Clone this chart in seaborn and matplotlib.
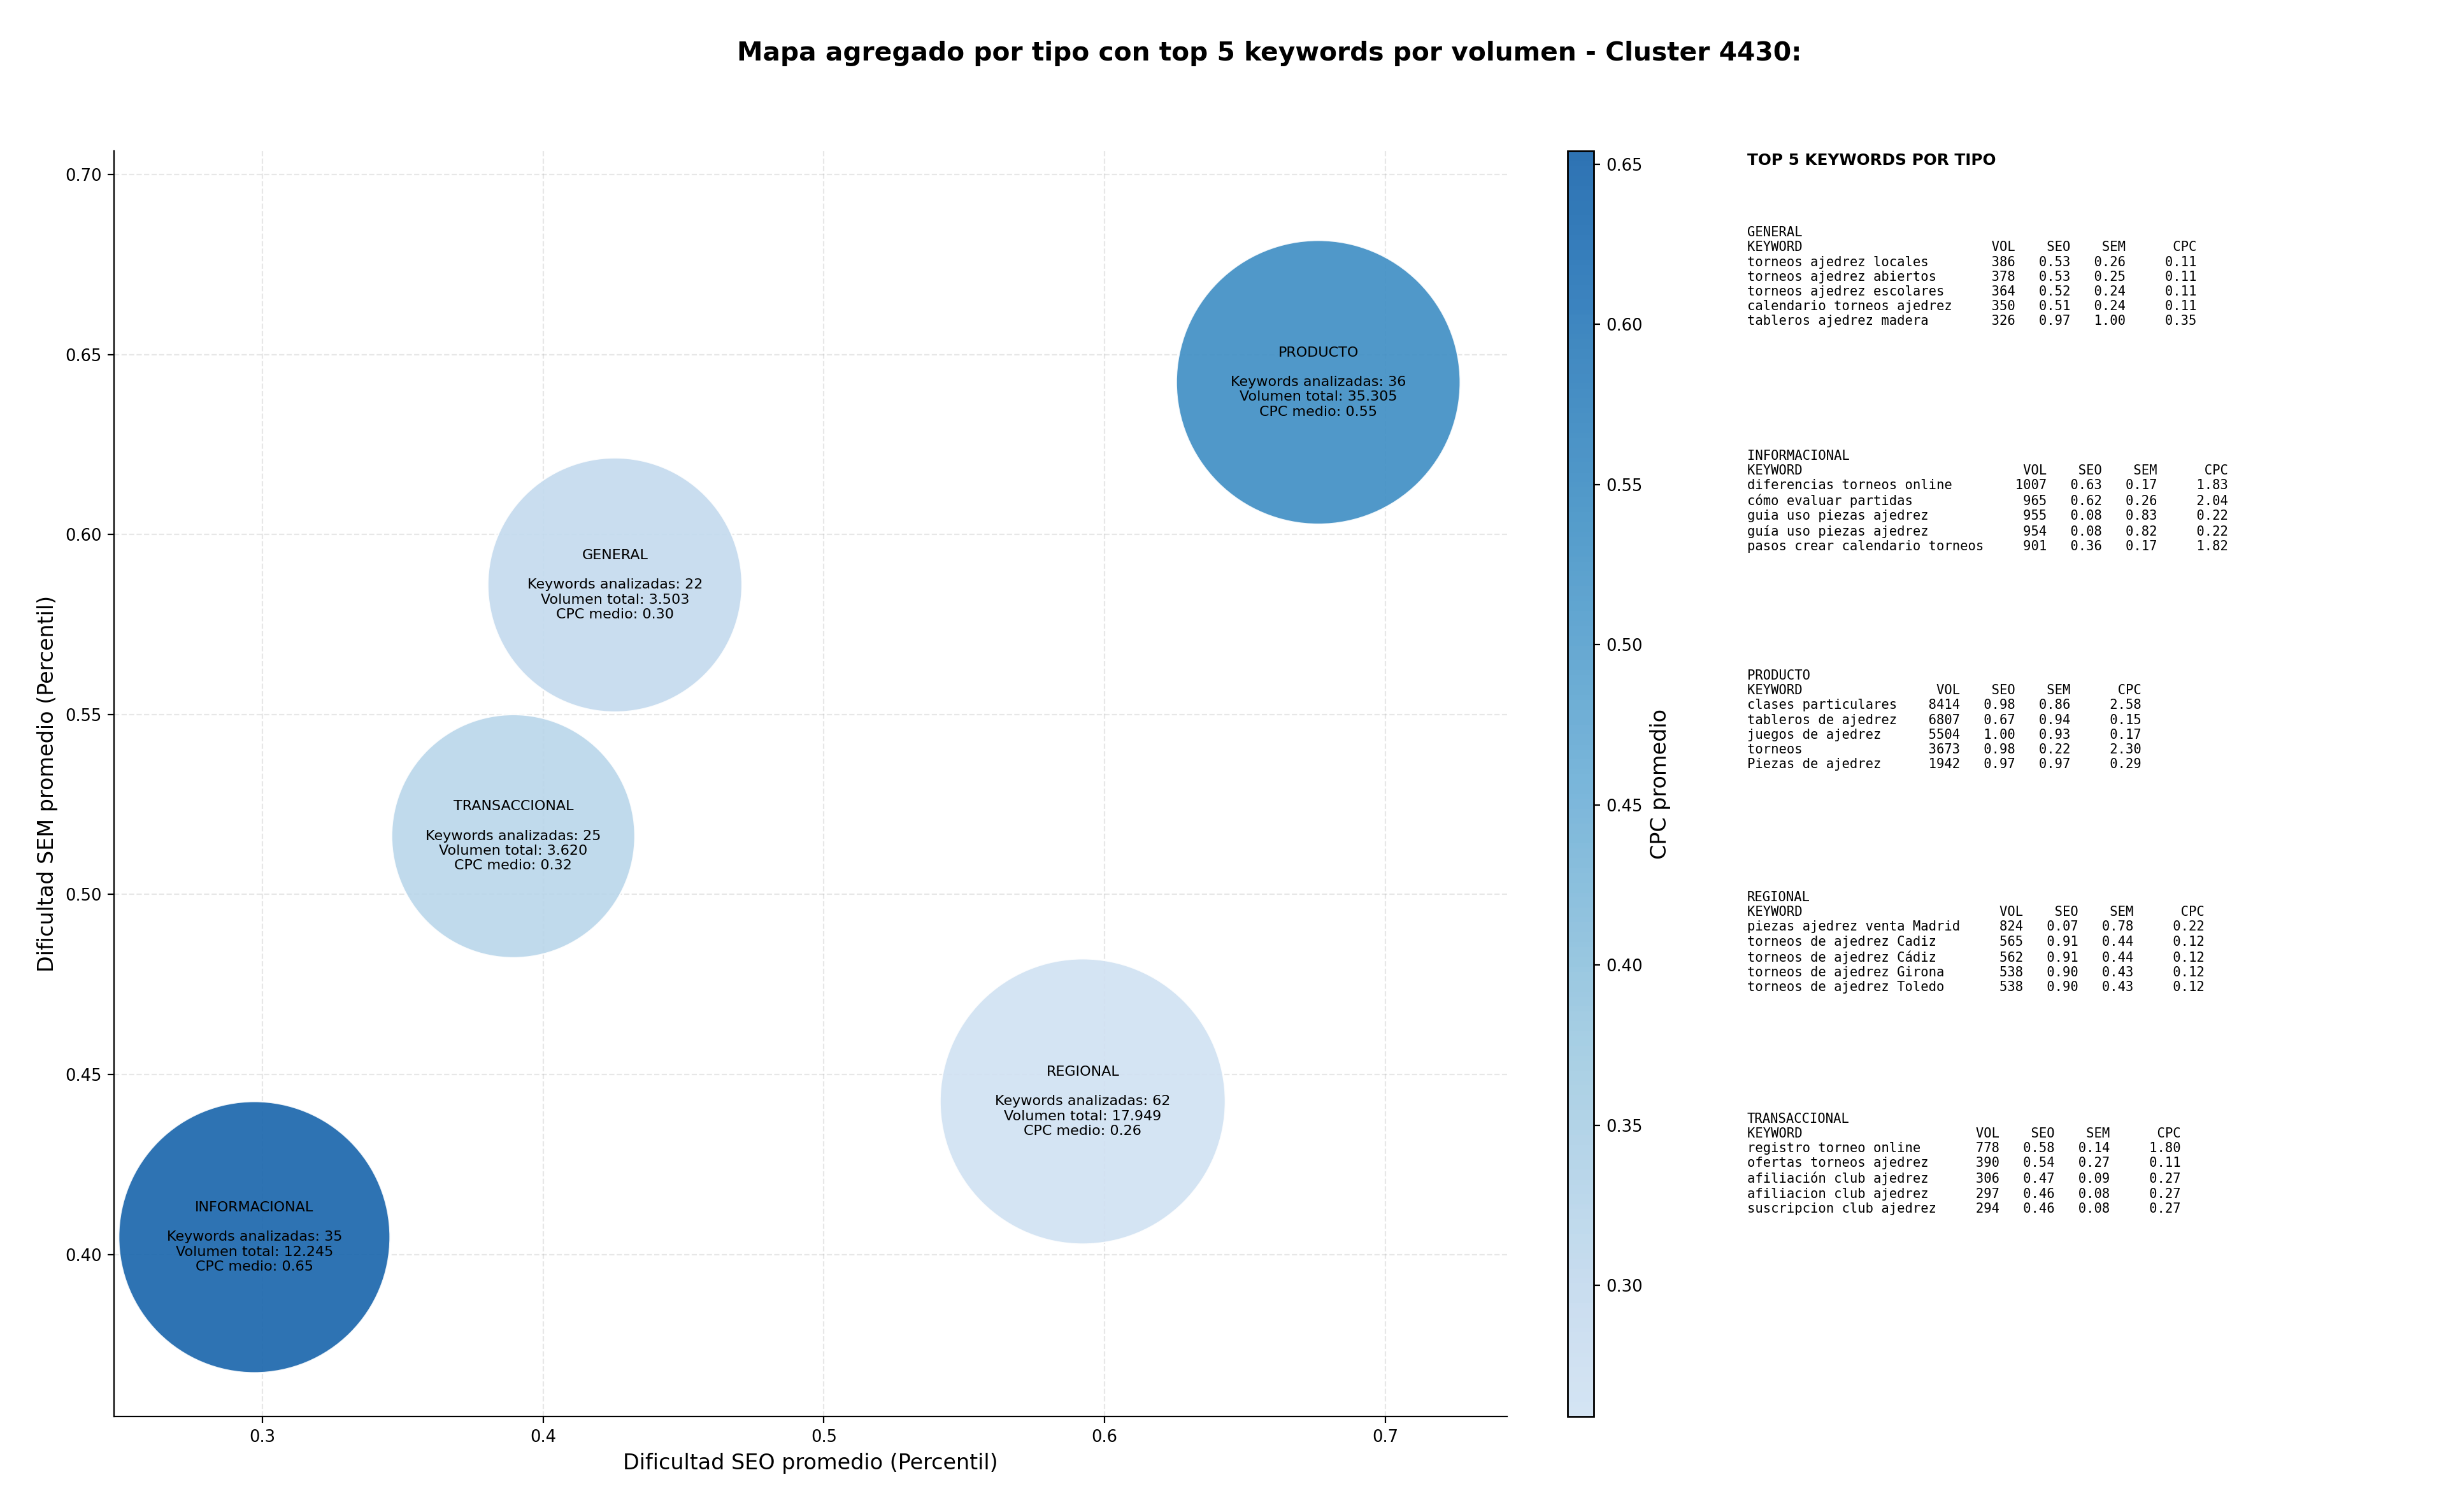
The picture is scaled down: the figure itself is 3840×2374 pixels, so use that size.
import numpy as np
import pandas as pd
import matplotlib
matplotlib.use("Agg")
import matplotlib.pyplot as plt
import matplotlib.colors as mcolors
import seaborn as sns

# ---------------- data ----------------
tipos = ["GENERAL", "INFORMACIONAL", "PRODUCTO", "REGIONAL", "TRANSACCIONAL"]
seo_medio = [0.4256, 0.2972, 0.6761, 0.5922, 0.3894]
sem_medio = [0.5860, 0.4048, 0.6423, 0.4425, 0.5162]
cpc_medio = [0.30, 0.654, 0.55, 0.259, 0.32]
n_keywords = [22, 35, 36, 62, 25]
vol_total = [3503, 12245, 35305, 17949, 3620]
# bubble diameters (points)
bubble_diam = [143.7, 153.4, 160.5, 161.3, 137.5]

general_kw = ["torneos ajedrez locales", "torneos ajedrez abiertos", "torneos ajedrez escolares",
              "calendario torneos ajedrez", "tableros ajedrez madera"]
general_vol = [386, 378, 364, 350, 326]
general_seo = [0.53, 0.53, 0.52, 0.51, 0.97]
general_sem = [0.26, 0.25, 0.24, 0.24, 1.00]
general_cpc = [0.11, 0.11, 0.11, 0.11, 0.35]

info_kw = ["diferencias torneos online", "cómo evaluar partidas", "guia uso piezas ajedrez",
           "guía uso piezas ajedrez", "pasos crear calendario torneos"]
info_vol = [1007, 965, 955, 954, 901]
info_seo = [0.63, 0.62, 0.08, 0.08, 0.36]
info_sem = [0.17, 0.26, 0.83, 0.82, 0.17]
info_cpc = [1.83, 2.04, 0.22, 0.22, 1.82]

prod_kw = ["clases particulares", "tableros de ajedrez", "juegos de ajedrez", "torneos", "Piezas de ajedrez"]
prod_vol = [8414, 6807, 5504, 3673, 1942]
prod_seo = [0.98, 0.67, 1.00, 0.98, 0.97]
prod_sem = [0.86, 0.94, 0.93, 0.22, 0.97]
prod_cpc = [2.58, 0.15, 0.17, 2.30, 0.29]

reg_kw = ["piezas ajedrez venta Madrid", "torneos de ajedrez Cadiz", "torneos de ajedrez Cádiz",
          "torneos de ajedrez Girona", "torneos de ajedrez Toledo"]
reg_vol = [824, 565, 562, 538, 538]
reg_seo = [0.07, 0.91, 0.91, 0.90, 0.90]
reg_sem = [0.78, 0.44, 0.44, 0.43, 0.43]
reg_cpc = [0.22, 0.12, 0.12, 0.12, 0.12]

trans_kw = ["registro torneo online", "ofertas torneos ajedrez", "afiliación club ajedrez",
            "afiliacion club ajedrez", "suscripcion club ajedrez"]
trans_vol = [778, 390, 306, 297, 294]
trans_seo = [0.58, 0.54, 0.47, 0.46, 0.46]
trans_sem = [0.14, 0.27, 0.09, 0.08, 0.08]
trans_cpc = [1.80, 0.11, 0.27, 0.27, 0.27]

top_tables = {
    "GENERAL": (general_kw, general_vol, general_seo, general_sem, general_cpc),
    "INFORMACIONAL": (info_kw, info_vol, info_seo, info_sem, info_cpc),
    "PRODUCTO": (prod_kw, prod_vol, prod_seo, prod_sem, prod_cpc),
    "REGIONAL": (reg_kw, reg_vol, reg_seo, reg_sem, reg_cpc),
    "TRANSACCIONAL": (trans_kw, trans_vol, trans_seo, trans_sem, trans_cpc),
}

df = pd.DataFrame({"tipo": tipos, "seo": seo_medio, "sem": sem_medio, "cpc": cpc_medio,
                   "n": n_keywords, "vol": vol_total})

# ---------------- style ----------------
sns.set_style("ticks", {"axes.edgecolor": "black", "text.color": "black",
                        "axes.labelcolor": "black", "xtick.color": "black",
                        "ytick.color": "black"})
plt.rcParams["font.family"] = ["DejaVu Sans"]

fig = plt.figure(figsize=(19.2, 11.87), dpi=200)
ax = fig.add_axes([0.0466, 0.063, 0.5695, 0.837])

base = plt.get_cmap("Blues")
cmap = mcolors.LinearSegmentedColormap.from_list("blues_trunc", base(np.linspace(0.2, 0.8, 256)))
norm = mcolors.Normalize(vmin=min(cpc_medio), vmax=max(cpc_medio))
alpha = 0.9

sizes = {t: d ** 2 for t, d in zip(tipos, bubble_diam)}
sns.scatterplot(data=df, x="seo", y="sem", hue="cpc", palette=cmap, hue_norm=norm,
                size="tipo", sizes=sizes, alpha=alpha, edgecolor="white", linewidth=0.8,
                legend=False, ax=ax, zorder=3)

def fmt_vol(v):
    return f"{v:,}".replace(",", ".")

for _, r in df.iterrows():
    txt = (f"{r['tipo']}\n\nKeywords analizadas: {int(r['n'])}\n"
           f"Volumen total: {fmt_vol(int(r['vol']))}\nCPC medio: {r['cpc']:.2f}")
    ax.text(r["seo"], r["sem"], txt, ha="center", va="center", fontsize=8, zorder=5,
            color="black")

ax.set_xlim(0.2472, 0.7433)
ax.set_ylim(0.3549, 0.7065)
ax.set_xticks([0.3, 0.4, 0.5, 0.6, 0.7])
ax.set_yticks([0.40, 0.45, 0.50, 0.55, 0.60, 0.65, 0.70])
ax.set_yticklabels([f"{v:.2f}" for v in [0.40, 0.45, 0.50, 0.55, 0.60, 0.65, 0.70]])
ax.tick_params(labelsize=9.3)
ax.grid(True, linestyle="--", color="#b0b0b0", alpha=0.3, zorder=0)
ax.set_axisbelow(True)
ax.set_xlabel("Dificultad SEO promedio (Percentil)", fontsize=12)
ax.set_ylabel("Dificultad SEM promedio (Percentil)", fontsize=12)
sns.despine(ax=ax)

# colorbar
cax = fig.add_axes([0.641, 0.063, 0.0105, 0.837])
sm = plt.cm.ScalarMappable(norm=norm, cmap=cmap)
cb = fig.colorbar(sm, cax=cax, alpha=alpha)
cb.set_label("CPC promedio", fontsize=12, labelpad=4)
cb.ax.tick_params(labelsize=9.3)
cb.outline.set_edgecolor("black")
cb.outline.set_linewidth(1.0)

fig.suptitle("Mapa agregado por tipo con top 5 keywords por volumen - Cluster 4430:",
             fontsize=14.7, fontweight="bold", x=0.519, y=0.973)

# right-hand text panel
fig.text(0.7143, 0.8937, "TOP 5 KEYWORDS POR TIPO", fontsize=8.9, fontweight="bold",
         ha="left", va="center")
block_tops = [0.8504, 0.7028, 0.5573, 0.4107, 0.2642]
for tipo, ytop in zip(tipos, block_tops):
    kws, vols, seos, sems, cpcs = top_tables[tipo]
    w = max(len(k) for k in kws)
    lines = [tipo, f"{'KEYWORD':<{w}}{'VOL':>8}{'SEO':>7}{'SEM':>7}{'CPC':>9}"]
    for k, v, s1, s2, c in zip(kws, vols, seos, sems, cpcs):
        lines.append(f"{k:<{w}}{v:>8}{s1:>7.2f}{s2:>7.2f}{c:>9.2f}")
    fig.text(0.7143, ytop, "\n".join(lines), fontsize=7.4, family="DejaVu Sans Mono",
             ha="left", va="top", linespacing=1.2)

fig.savefig("out.png", dpi=200)
